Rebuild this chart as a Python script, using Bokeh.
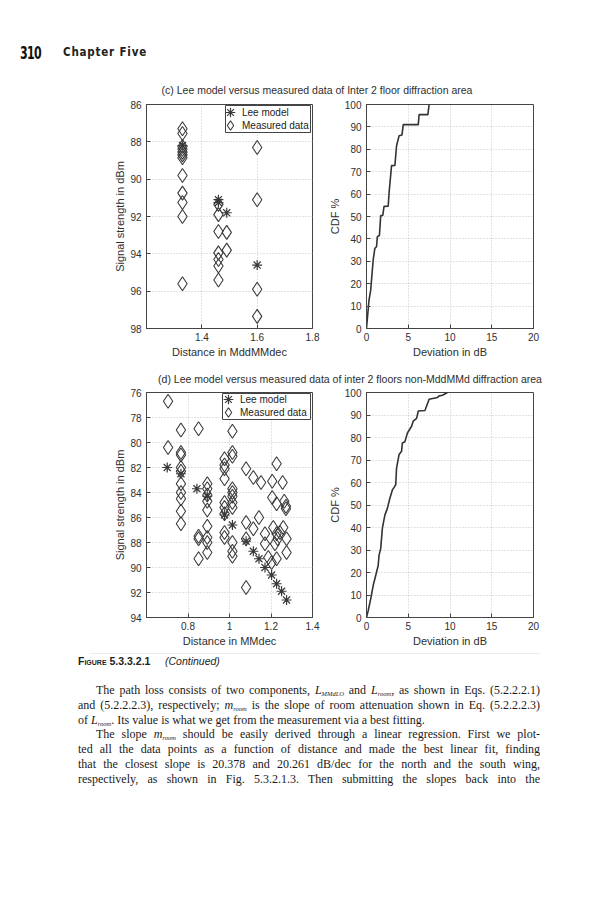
from bokeh.plotting import figure
from bokeh.models import Range1d, FixedTicker, Div, Legend, LegendItem, BoxAnnotation
from bokeh.layouts import column, row
from bokeh.embed import file_html
from bokeh.resources import INLINE

# ---------------- data: (c) Inter 2 floor diffraction area ----------------
c_lee_x = [1.33, 1.46, 1.46, 1.49, 1.60]
c_lee_y = [88.2, 91.1, 91.25, 91.8, 94.6]
c_meas_x = [1.33, 1.33, 1.33, 1.33, 1.33, 1.33, 1.33, 1.33, 1.33, 1.33, 1.33, 1.33,
            1.46, 1.46, 1.46, 1.46, 1.46, 1.46, 1.46,
            1.49, 1.49,
            1.60, 1.60, 1.60, 1.60]
c_meas_y = [87.3, 87.55, 88.25, 88.4, 88.55, 88.7, 88.85, 89.8, 90.75, 91.25, 92.0, 95.6,
            91.35, 91.9, 92.8, 93.95, 94.3, 94.65, 95.4,
            92.85, 93.8,
            88.3, 91.1, 95.9, 97.35]
c_cdf_x = [0.0, 0.3, 0.5, 0.8, 1.0, 1.2, 1.3, 1.55, 1.7, 1.95, 2.1, 2.6, 2.7, 3.0,
           3.4, 3.6, 3.9, 4.25, 4.4, 6.2, 6.3, 7.35, 7.5]
c_cdf_y = [0.0, 12.7, 17.0, 30.6, 35.8, 36.5, 41.0, 41.5, 50.4, 50.5, 54.5, 54.6, 60.4, 72.7,
           72.8, 81.6, 86.0, 86.4, 91.0, 91.0, 95.5, 95.5, 100.0]

# ---------------- data: (d) Inter 2 floors non-MddMMd diffraction area ----------------
d_lee_x = [0.70, 0.766, 0.843, 0.893, 0.976, 1.014, 1.08, 1.115, 1.142, 1.171, 1.203, 1.227, 1.251, 1.275]
d_lee_y = [82.0, 82.5, 83.7, 84.3, 85.8, 86.6, 87.9, 88.7, 89.3, 90.0, 90.6, 91.3, 91.9, 92.6]
d_meas_x = [0.704, 0.704,
            0.766, 0.766, 0.766, 0.766, 0.766, 0.766, 0.766, 0.766, 0.766, 0.766,
            0.851, 0.851, 0.851, 0.851,
            0.893, 0.893, 0.893, 0.893, 0.893, 0.893, 0.893, 0.893, 0.893,
            0.976, 0.976, 0.976, 0.976, 0.976, 0.976, 0.976, 0.976, 0.976,
            1.014, 1.014, 1.014, 1.014, 1.014, 1.014, 1.014, 1.014, 1.014, 1.014, 1.014,
            1.08, 1.115, 1.152, 1.08, 1.115, 1.142, 1.08, 1.08,
            1.227, 1.206, 1.256, 1.206, 1.227, 1.264, 1.272, 1.272,
            1.171, 1.171, 1.187, 1.211, 1.227, 1.232, 1.259, 1.275, 1.275, 1.203, 1.227, 1.219, 1.243]
d_meas_y = [76.7, 80.4,
            79.0, 80.8, 81.0, 82.0, 82.3, 83.3, 84.0, 84.5, 85.5, 86.5,
            78.9, 87.5, 87.7, 89.3,
            83.3, 83.7, 84.2, 84.7, 85.4, 86.7, 87.6, 88.0, 88.8,
            81.3, 81.8, 82.1, 82.9, 84.8, 85.2, 85.7, 87.2, 87.6,
            79.1, 80.8, 81.1, 83.7, 84.0, 84.3, 84.8, 85.2, 88.0, 88.7, 89.1,
            82.1, 82.8, 83.2, 86.4, 86.9, 86.0, 87.7, 91.6,
            81.7, 83.1, 83.2, 84.4, 84.9, 84.7, 85.1, 85.3,
            87.3, 88.1, 89.2, 86.8, 87.3, 87.7, 86.8, 87.7, 88.8, 89.6, 89.3, 88.1, 87.2]
d_cdf_x = [0.0, 0.2, 0.5, 0.8, 1.2, 1.4, 1.5, 1.7, 1.9, 2.2, 2.5, 2.8, 3.1, 3.3, 3.5, 3.6,
           3.9, 4.2, 4.3, 4.6, 4.9, 5.4, 5.6, 6.0, 6.2, 7.0, 7.5, 8.5, 8.7, 9.1, 9.7]
d_cdf_y = [0.0, 3.0, 8.2, 14.2, 20.1, 23.1, 27.6, 30.6, 39.6, 45.5, 48.5, 53.0, 56.7, 57.8, 59.0, 66.4,
           72.4, 73.9, 77.6, 78.1, 82.0, 85.0, 87.3, 88.5, 91.8, 92.0, 97.0, 97.8, 98.5, 98.8, 100.0]

# tick values / labels
c_xticks = [1.4, 1.6, 1.8]
d_xticks = [0.8, 1.0, 1.2, 1.4]
c_yticks = [86, 88, 90, 92, 94, 96, 98]
d_yticks = [76, 78, 80, 82, 84, 86, 88, 90, 92, 94]
cdf_xticks = [0, 5, 10, 15, 20]
cdf_yticks = [0, 10, 20, 30, 40, 50, 60, 70, 80, 90, 100]
series_names = ["Lee model", "Measured data"]

title_c = "(c) Lee model versus measured data of Inter 2 floor diffraction area"
title_d = "(d) Lee model versus measured data of inter 2 floors non-MddMMd diffraction area"

FONT = "Liberation Sans"
INK = "#2e2e2e"
W = 613


def style(p, xlabel, ylabel, xticks, yticks):
    p.background_fill_color = "white"
    p.border_fill_color = "white"
    p.outline_line_color = "#444444"
    p.outline_line_width = 1
    for ax in (p.xaxis[0], p.yaxis[0]):
        ax.axis_line_color = "#444444"
        ax.major_tick_line_color = "#444444"
        ax.major_tick_in = 4
        ax.major_tick_out = 0
        ax.minor_tick_line_color = None
        ax.major_label_text_font = FONT
        ax.major_label_text_font_size = "10px"
        ax.major_label_text_color = INK
        ax.axis_label_text_font = FONT
        ax.axis_label_text_font_size = "11px"
        ax.axis_label_text_font_style = "normal"
        ax.axis_label_text_color = INK
    p.xaxis.axis_label = xlabel
    p.yaxis.axis_label = ylabel
    p.xaxis.ticker = FixedTicker(ticks=xticks)
    p.yaxis.ticker = FixedTicker(ticks=yticks)
    p.xaxis.major_label_standoff = 4
    p.xaxis.axis_label_standoff = 2
    p.yaxis.major_label_standoff = 5
    p.yaxis.axis_label_standoff = 1
    for g in (p.xgrid[0], p.ygrid[0]):
        g.grid_line_color = "#c4c4c4"
        g.grid_line_dash = "1 2"
        g.grid_line_width = 1


def one_legend(label, rend, loc):
    return Legend(items=[LegendItem(label=label, renderers=[rend])],
                  location=loc, margin=0, padding=0, spacing=0,
                  glyph_width=24, glyph_height=24, label_height=13, label_standoff=-1,
                  label_text_font=FONT, label_text_font_size="10px", label_text_color="#222222",
                  border_line_color=None, background_fill_alpha=0)


def scatter_fig(xr, yr, xticks, yticks, xlabel, lee_x, lee_y, mx, my, bt, bb, h, box, loc1, loc2):
    p = figure(width=324, height=h, x_range=Range1d(*xr), y_range=Range1d(*yr),
               output_backend="svg", toolbar_location=None,
               min_border_left=146, min_border_right=12, min_border_top=bt, min_border_bottom=bb)
    style(p, xlabel, "Signal strength in dBm", xticks, yticks)
    r_lee = p.scatter(lee_x, lee_y, marker="asterisk", size=10, line_color="#3a3a3a", line_width=1.2)
    r_meas = p.scatter(mx, my, marker="diamond", size=14, fill_color=None, line_color="#3a3a3a",
                       line_width=1.1)
    # legend frame (screen units relative to the plot frame)
    p.add_layout(BoxAnnotation(left=box[0], right=box[1], bottom=box[2], top=box[3],
                               left_units="screen", right_units="screen",
                               bottom_units="screen", top_units="screen",
                               fill_color="white", fill_alpha=1.0,
                               line_color="#444444", line_width=1, line_alpha=1.0))
    p.add_layout(one_legend(series_names[0], r_lee, loc1))
    p.add_layout(one_legend(series_names[1], r_meas, loc2))
    return p


def cdf_fig(cx, cy, bt, bb, h):
    p = figure(width=289, height=h, x_range=Range1d(0, 20), y_range=Range1d(0, 100),
               output_backend="svg", toolbar_location=None,
               min_border_left=42, min_border_right=80, min_border_top=bt, min_border_bottom=bb)
    style(p, "Deviation in dB", "CDF %", cdf_xticks, cdf_yticks)
    p.line(cx, cy, line_color="#333333", line_width=1.6)
    return p


# ---------- page blocks ----------
header = Div(width=W, height=98, margin=0, text=f"""
<div style="position:relative;width:{W}px;height:98px;">
 <span style="position:absolute;left:20px;top:45px;line-height:1;font-family:'DejaVu Sans Condensed','DejaVu Sans',sans-serif;font-weight:bold;font-size:17px;color:#111;letter-spacing:-1px;display:inline-block;transform:scaleX(0.72);transform-origin:left center;">310</span>
 <span style="position:absolute;left:63px;top:47px;line-height:1;font-family:'DejaVu Sans Condensed','DejaVu Sans',sans-serif;font-weight:bold;font-size:11.5px;color:#222;letter-spacing:0.8px;">Chapter Five</span>
 <div style="position:absolute;left:21px;top:84px;width:592px;text-align:center;line-height:12px;white-space:nowrap;font-family:'{FONT}';font-size:10.5px;color:{INK};">{title_c}</div>
</div>""")

c_left = scatter_fig((1.2, 1.8), (98, 86), c_xticks, c_yticks, "Distance in MddMMdec",
                     c_lee_x, c_lee_y, c_meas_x, c_meas_y, 6, 32, 262,
                     (79, 164, 196, 223), (72, 204), (72, 191))
c_right = cdf_fig(c_cdf_x, c_cdf_y, 6, 32, 262)

mid = Div(width=W, height=26, margin=0, text=f"""
<div style="position:relative;width:{W}px;height:26px;">
 <div style="position:absolute;left:87px;top:13px;width:526px;text-align:center;line-height:12px;white-space:nowrap;font-family:'{FONT}';font-size:10.5px;color:{INK};">{title_d}</div>
</div>""")

d_left = scatter_fig((0.6, 1.4), (94, 76), d_xticks, d_yticks, "Distance in MMdec",
                     d_lee_x, d_lee_y, d_meas_x, d_meas_y, 6, 33, 264,
                     (76, 164, 198, 224), (70, 206), (70, 193))
d_right = cdf_fig(d_cdf_x, d_cdf_y, 6, 33, 264)

sub = "font-size:6.5px;font-style:italic;vertical-align:-2px;line-height:0;"
line = "text-align:justify;text-align-last:justify;"
footer = Div(width=W, height=250, margin=0, text=f"""
<div style="position:relative;width:{W}px;height:250px;">
 <div style="position:absolute;left:90px;top:3px;width:450px;height:0;border-top:1px solid #ececec;"></div>
 <span style="position:absolute;left:78px;top:6px;line-height:1;white-space:nowrap;font-family:'{FONT}';font-size:10.5px;color:#222;"><b style="font-variant:small-caps;">Figure</b> <b>5.3.3.2.1</b>&nbsp;&nbsp;&nbsp;&nbsp;&nbsp;<i>(Continued)</i></span>
 <div style="position:absolute;left:78px;top:33px;width:462px;font-family:'Liberation Serif',serif;font-size:12px;line-height:14.8px;color:#1a1a1a;">
  <div style="{line}text-indent:18px;">The path loss consists of two components, <i>L</i><span style="{sub}">MMdLO</span> and <i>L</i><span style="{sub}">room</span>, as shown in Eqs. (5.2.2.2.1)</div>
  <div style="{line}">and (5.2.2.2.3), respectively; <i>m</i><span style="{sub}">room</span> is the slope of room attenuation shown in Eq. (5.2.2.2.3)</div>
  <div style="text-align:left;">of <i>L</i><span style="{sub}">room</span>. Its value is what we get from the measurement via a best fitting.</div>
  <div style="{line}text-indent:18px;">The slope <i>m</i><span style="{sub}">room</span> should be easily derived through a linear regression. First we plot-</div>
  <div style="{line}">ted all the data points as a function of distance and made the best linear fit, finding</div>
  <div style="{line}">that the closest slope is 20.378 and 20.261 dB/dec for the north and the south wing,</div>
  <div style="{line}">respectively, as shown in Fig. 5.3.2.1.3. Then submitting the slopes back into the</div>
 </div>
</div>""")

page = column(header, row(c_left, c_right), mid, row(d_left, d_right), footer)

open("out.html", "w").write(file_html(page, INLINE))
